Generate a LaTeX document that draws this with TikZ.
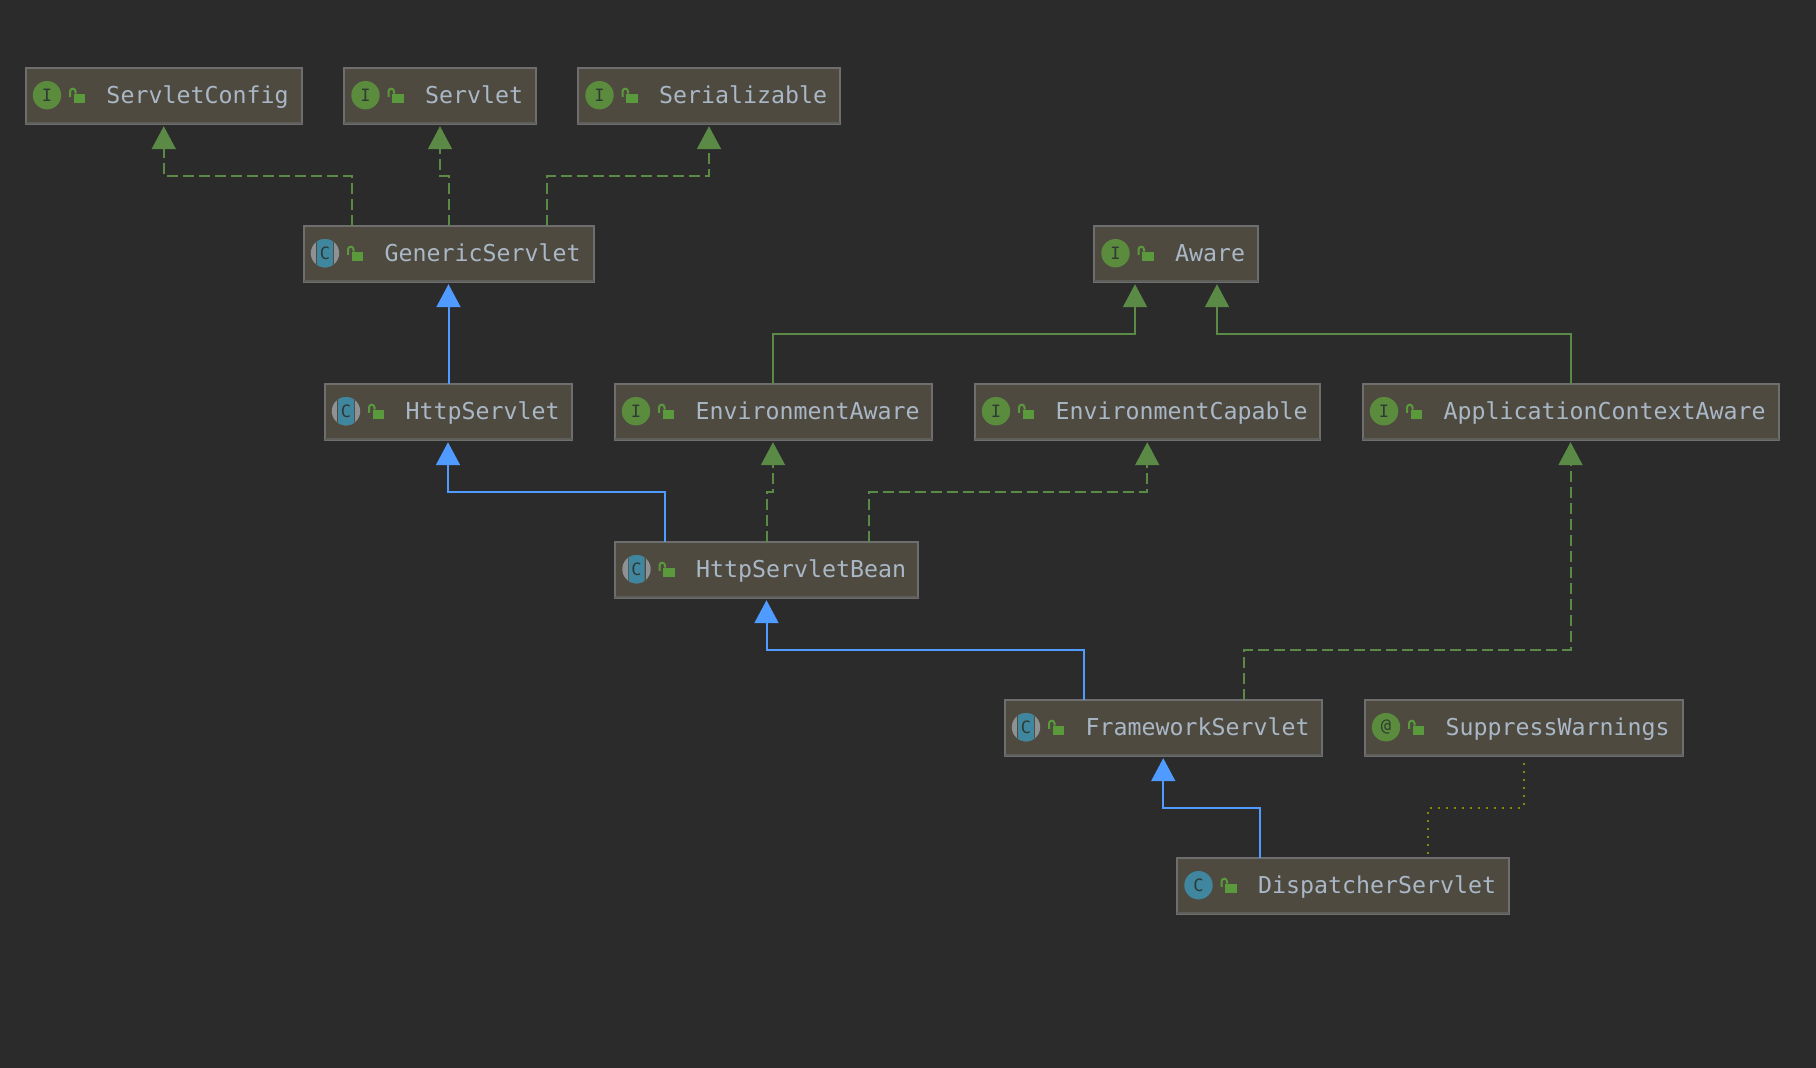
\documentclass[tikz,border=0pt]{standalone}
\usepackage{fontspec}
\setmainfont{DejaVu Sans Mono}
\usetikzlibrary{arrows.meta,positioning}
\definecolor{bg}{HTML}{2B2B2B}
\definecolor{boxfill}{HTML}{4E4A3F}
\definecolor{boxline}{HTML}{6E6E6E}
\definecolor{boxlow}{HTML}{5E5E5A}
\definecolor{txt}{HTML}{A9B7C6}
\definecolor{grn}{HTML}{5A8A45}
\definecolor{blu}{HTML}{4F9BFF}
\definecolor{olv}{HTML}{8A8A00}
\definecolor{ifc}{HTML}{5B8C3E}
\definecolor{tea}{HTML}{40869F}
\definecolor{gry}{HTML}{8E9294}
\definecolor{lck}{HTML}{5A9A3C}
\definecolor{ink}{HTML}{2E3A33}
\tikzset{
  umlbox/.style={draw=boxline,line width=2pt,fill=boxfill,anchor=north west,outer sep=0pt,minimum height=56.5pt,inner sep=0pt,text=txt,
    font=\fontsize{23.26pt}{28pt}\selectfont,text height=20pt,text depth=4pt,align=left},
  glyph/.style={inner sep=0pt,text=ink,font=\fontsize{17pt}{17pt}\selectfont},
  impl/.style={color=grn,line width=2pt,shorten >=2pt,dash pattern=on 11pt off 5pt,-{Triangle[length=23pt,width=24pt,color=grn,fill=grn]}},
  real/.style={color=grn,line width=2pt,shorten >=2pt,-{Triangle[length=23pt,width=24pt,color=grn,fill=grn]}},
  ext/.style={color=blu,line width=2pt,shorten >=2pt,-{Triangle[length=23pt,width=24pt,color=blu,fill=blu]}},
  dep/.style={color=olv,line width=2pt,dash pattern=on 2pt off 6pt},
}
% #1 name, #2 x, #3 y, #4 width, #5 icon kind, #6 letter, #7 label
\newcommand\umlnode[7]{%
  \node[umlbox,text width=#4pt] (#1) at (#2,#3) {\hspace*{81pt}#7};
  \fill[boxlow] ([yshift=2.5pt]#1.south west) rectangle (#1.south east);
  \begin{scope}[shift={(#2,#3)}]
    \ifnum#5=0
      \fill[ifc] (21.5,27.5) circle[radius=14.2];
    \fi
    \ifnum#5=1
      \fill[tea] (21.5,27.5) circle[radius=14.2];
    \fi
    \ifnum#5=2
      \fill[gry] (21.5,27.5) circle[radius=14.2];
      \begin{scope}
        \clip (21.5,27.5) circle[radius=14.2];
        \fill[boxfill] (12.5,13) rectangle (30.5,42);
        \fill[tea,rounded corners=4pt] (13.5,12) rectangle (29.5,43);
      \end{scope}
    \fi
    \node[glyph] (#1-glyph) at (21.5,27.5) {#6};
    \fill[lck] (48,26) rectangle (59.8,35.2);
    \draw[lck,line width=2pt] (44.5,29.2) -- (44.5,23.75) arc[start angle=180,end angle=360,radius=2.75] -- (50,26);
  \end{scope}
}
\begin{document}
\begin{tikzpicture}[x=1pt,y=-1pt]
\fill[bg] (0,0) rectangle (1816,1068);
\useasboundingbox (0,0) rectangle (1816,1068);

\umlnode{SC}{25.5}{67.7}{276.5}{0}{I}{ServletConfig}
\umlnode{SV}{344}{67.7}{192}{0}{I}{Servlet}
\umlnode{SZ}{578}{67.7}{262}{0}{I}{Serializable}
\umlnode{GS}{303.5}{225.7}{290}{2}{C}{GenericServlet}
\umlnode{AW}{1094}{225.7}{164}{0}{I}{Aware}
\umlnode{HS}{324.5}{383.7}{247}{2}{C}{HttpServlet}
\umlnode{EA}{614.5}{383.7}{317}{0}{I}{EnvironmentAware}
\umlnode{EC}{974.5}{383.7}{345.5}{0}{I}{EnvironmentCapable}
\umlnode{AC}{1362.5}{383.7}{416}{0}{I}{ApplicationContextAware}
\umlnode{HB}{615}{541.7}{303}{2}{C}{HttpServletBean}
\umlnode{FS}{1004.5}{699.7}{317.5}{2}{C}{FrameworkServlet}
\umlnode{SW}{1364.5}{699.7}{318}{0}{@}{SuppressWarnings}
\umlnode{DS}{1177}{857.7}{332}{1}{C}{DispatcherServlet}

\draw[impl] ([xshift=48.5pt]GS.north west) -- ++(0,-50) -| (SC.south);
\draw[impl] (GS.north) -- ++(0,-50) -| (SV.south);
\draw[impl] ([xshift=243pt]GS.north west) -- ++(0,-50) -| (SZ.south);
\draw[ext] (HS.north -| GS.south) -- (GS.south);
\draw[real] (EA.north) -- ++(0,-50) -| ([xshift=41pt]AW.south west);
\draw[real] (AC.north) -- ++(0,-50) -| ([xshift=123pt]AW.south west);
\draw[ext] ([xshift=50pt]HB.north west) -- ++(0,-50) -| (HS.south);
\draw[impl] (HB.north) -- ++(0,-50) -| (EA.south);
\draw[impl] ([xshift=253.5pt]HB.north west) -- ++(0,-50) -| (EC.south);
\draw[ext] ([xshift=79.5pt]FS.north west) -- ++(0,-50) -| (HB.south);
\draw[impl] ([xshift=239.5pt]FS.north west) -- ++(0,-50) -| (AC.south);
\draw[ext] ([xshift=83pt]DS.north west) -- ++(0,-50) -| (FS.south);
\draw[dep,shorten >=6pt,shorten <=4pt] ([xshift=251pt]DS.north west) -- ++(0,-50) -| (SW.south);
\end{tikzpicture}
\end{document}
